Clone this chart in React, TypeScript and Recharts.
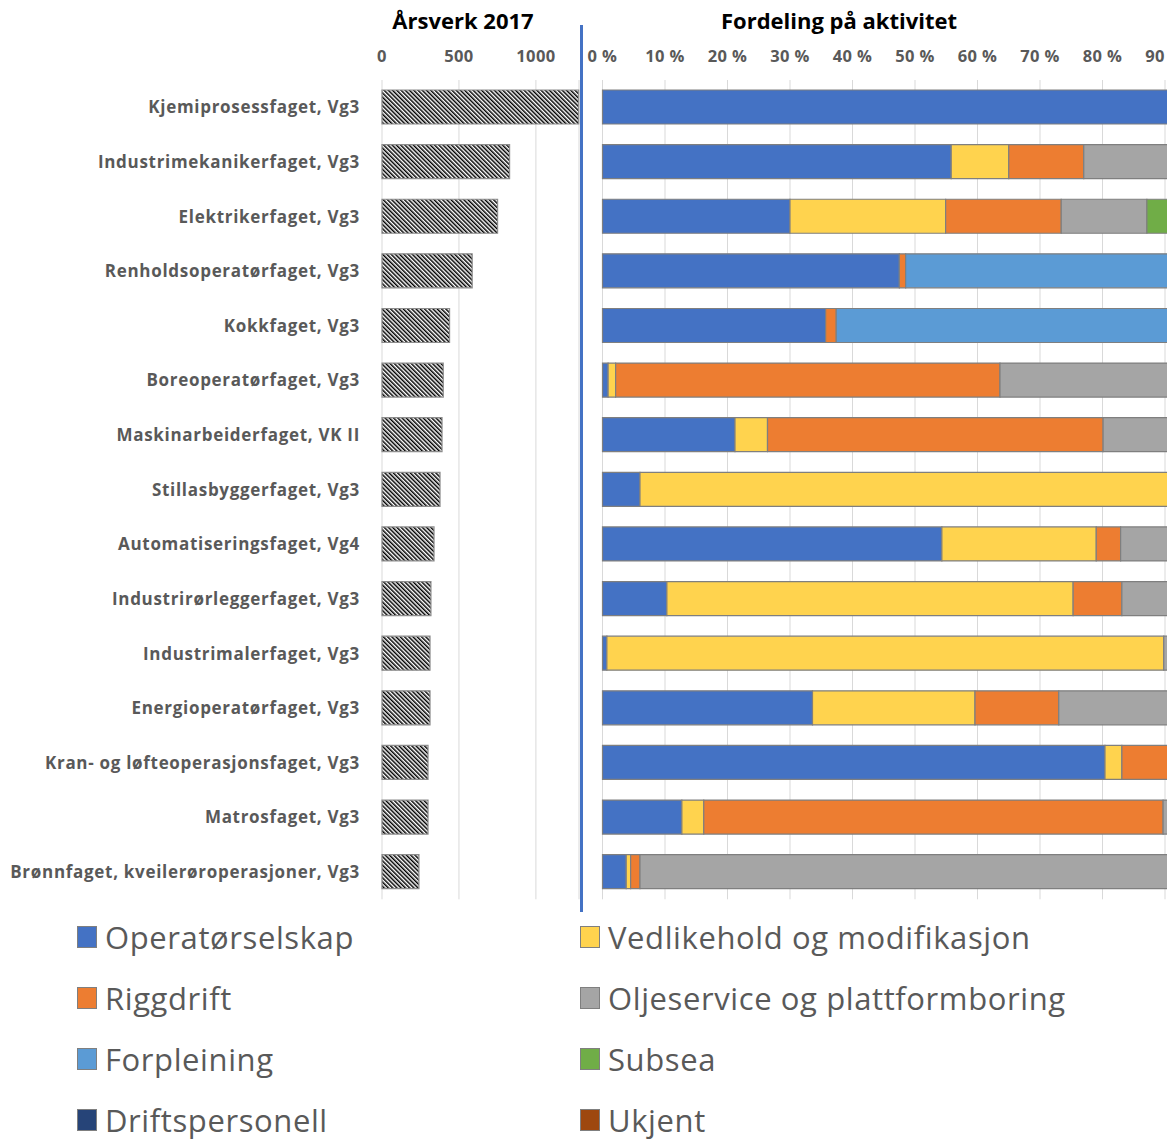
import React from "react";
import { BarChart, Bar, XAxis, YAxis, CartesianGrid } from "recharts";

const categories = [
  "Kjemiprosessfaget, Vg3",
  "Industrimekanikerfaget, Vg3",
  "Elektrikerfaget, Vg3",
  "Renholdsoperatørfaget, Vg3",
  "Kokkfaget, Vg3",
  "Boreoperatørfaget, Vg3",
  "Maskinarbeiderfaget, VK II",
  "Stillasbyggerfaget, Vg3",
  "Automatiseringsfaget, Vg4",
  "Industrirørleggerfaget, Vg3",
  "Industrimalerfaget, Vg3",
  "Energioperatørfaget, Vg3",
  "Kran- og løfteoperasjonsfaget, Vg3",
  "Matrosfaget, Vg3",
  "Brønnfaget, kveilerøroperasjoner, Vg3",
];

const aarsverk = [1278, 829, 751, 586, 439, 398, 390, 377, 338, 318, 312, 312, 299, 299, 240];
const aarsverkTicks = [0, 500, 1000];
const pctTicks = [0, 10, 20, 30, 40, 50, 60, 70, 80, 90, 100];

const operatorselskap = [100, 55.8, 30.0, 47.5, 35.7, 0.9, 21.2, 6.0, 54.3, 10.3, 0.7, 33.6, 80.4, 12.7, 3.8];
const vedlikehold = [0, 9.2, 24.9, 0, 0, 1.2, 5.2, 94.0, 24.7, 65.0, 89.1, 26.0, 2.7, 3.5, 0.7];
const riggdrift = [0, 12.0, 18.5, 1.0, 1.7, 61.5, 53.7, 0, 3.9, 7.8, 0, 13.4, 16.9, 73.5, 1.5];
const oljeservice = [0, 23.0, 13.7, 0, 0, 36.4, 19.9, 0, 17.1, 16.9, 10.2, 27.0, 0, 10.3, 94.0];
const forpleining = [0, 0, 0, 51.5, 62.6, 0, 0, 0, 0, 0, 0, 0, 0, 0, 0];
const subsea = [0, 0, 12.9, 0, 0, 0, 0, 0, 0, 0, 0, 0, 0, 0, 0];
const driftspersonell = [0, 0, 0, 0, 0, 0, 0, 0, 0, 0, 0, 0, 0, 0, 0];
const ukjent = [0, 0, 0, 0, 0, 0, 0, 0, 0, 0, 0, 0, 0, 0, 0];

const series = [
  { key: "op", name: "Operatørselskap", color: "#4472C4", values: operatorselskap },
  { key: "ved", name: "Vedlikehold og modifikasjon", color: "#FFD34E", values: vedlikehold },
  { key: "rig", name: "Riggdrift", color: "#ED7D31", values: riggdrift },
  { key: "olje", name: "Oljeservice og plattformboring", color: "#A5A5A5", values: oljeservice },
  { key: "forp", name: "Forpleining", color: "#5B9BD5", values: forpleining },
  { key: "sub", name: "Subsea", color: "#70AD47", values: subsea },
  { key: "drift", name: "Driftspersonell", color: "#264478", values: driftspersonell },
  { key: "ukj", name: "Ukjent", color: "#9E480E", values: ukjent },
];

const leftData = categories.map((name, i) => ({ name, aarsverk: aarsverk[i] }));

const rightData = categories.map((name, i) => {
  const row: Record<string, string | number> = { name };
  series.forEach((s) => {
    row[s.key] = s.values[i];
  });
  return row;
});

const font = "'Open Sans', 'Noto Sans', sans-serif";
const grey = "#595959";
const tickStyle = { fill: grey, fontSize: 16.5, fontWeight: 700, fontFamily: font, letterSpacing: 0.4 };

function App() {
  return (
    <div
      style={{
        position: "absolute",
        left: 0,
        top: 0,
        width: 1167,
        height: 1139,
        overflow: "hidden",
        background: "#fff",
        fontFamily: font,
      }}
    >
      <div style={{ position: "absolute", left: 313, width: 300, top: 5, textAlign: "center", fontWeight: 700, fontSize: 22, color: "#000" }}>
        Årsverk 2017
      </div>
      <div style={{ position: "absolute", left: 689, width: 300, top: 5, textAlign: "center", fontWeight: 700, fontSize: 22, color: "#000" }}>
        Fordeling på aktivitet
      </div>

      <div style={{ position: "absolute", left: 0, top: 0 }}>
        <BarChart
          width={582}
          height={920}
          data={leftData}
          layout="vertical"
          margin={{ top: 40, right: 3, bottom: 20.7, left: 0 }}
          barSize={34}
        >
          <defs>
            <pattern id="hatch" width="3" height="3" patternUnits="userSpaceOnUse" patternTransform="rotate(-45)">
              <rect width="3" height="3" fill="#fff" />
              <rect width="1.5" height="3" fill="#000" />
            </pattern>
          </defs>
          <CartesianGrid horizontal={false} stroke="#d9d9d9" />
          <XAxis
            type="number"
            orientation="top"
            domain={[0, 1280]}
            ticks={aarsverkTicks}
            interval={0}
            height={40}
            axisLine={false}
            tickLine={false}
            tickMargin={12}
            tick={tickStyle}
          />
          <YAxis
            type="category"
            dataKey="name"
            width={382}
            axisLine={false}
            tickLine={false}
            tickMargin={16}
            interval={0}
            tick={{ fill: grey, fontSize: 17, fontWeight: 700, fontFamily: font, letterSpacing: 0.7 }}
          />
          <Bar dataKey="aarsverk" fill="url(#hatch)" stroke="#8c8c8c" strokeWidth={1.2} isAnimationActive={false} />
        </BarChart>
      </div>

      <div style={{ position: "absolute", left: 560, top: 0 }}>
        <BarChart
          width={680}
          height={920}
          data={rightData}
          layout="vertical"
          margin={{ top: 40, right: 12.5, bottom: 20.7, left: 42.5 }}
          barSize={34}
        >
          <CartesianGrid horizontal={false} stroke="#d9d9d9" />
          <XAxis
            type="number"
            orientation="top"
            domain={[0, 100]}
            ticks={pctTicks}
            interval={0}
            height={40}
            axisLine={false}
            tickLine={false}
            tickMargin={12}
            tickFormatter={(v: number) => `${v} %`}
            tick={tickStyle}
          />
          <YAxis type="category" dataKey="name" hide />
          {series.map((s) => (
            <Bar
              key={s.key}
              dataKey={s.key}
              name={s.name}
              stackId="a"
              fill={s.color}
              stroke="#7f7f7f"
              strokeWidth={1.2}
              isAnimationActive={false}
            />
          ))}
        </BarChart>
      </div>

      <div style={{ position: "absolute", left: 580, top: 25, width: 3, height: 887, background: "#4472C4" }} />

      <div
        style={{
          position: "absolute",
          left: 77,
          top: 906,
          display: "grid",
          gridTemplateColumns: "503px 500px",
          gridAutoRows: "61px",
        }}
      >
        {series.map((s) => (
          <div key={s.key} style={{ display: "flex", alignItems: "center", height: 61 }}>
            <span
              style={{
                display: "inline-block",
                width: 20,
                height: 22,
                background: s.color,
                border: "1px solid #7f7f7f",
                boxSizing: "border-box",
                marginRight: 8,
              }}
            />
            <span style={{ fontSize: 31, letterSpacing: 0.6, color: grey, whiteSpace: "nowrap" }}>{s.name}</span>
          </div>
        ))}
      </div>
    </div>
  );
}

export default App;
